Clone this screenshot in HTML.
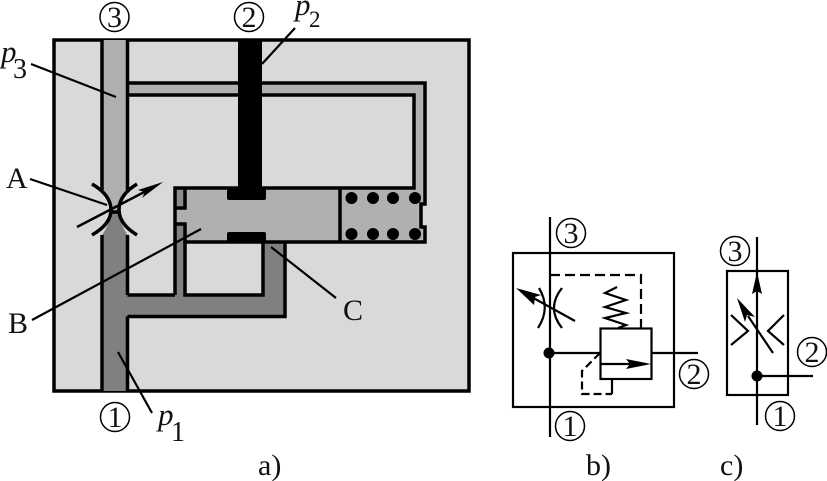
<!DOCTYPE html>
<html><head><meta charset="utf-8">
<style>
html,body{margin:0;padding:0;background:#fff}
svg{display:block}
text{font-family:"Liberation Serif",serif;fill:#111}
</style></head>
<body>
<svg width="827" height="481" viewBox="0 0 827 481" xmlns="http://www.w3.org/2000/svg">
<!-- body -->
<rect x="54" y="40" width="415" height="351" fill="#d9d9d9" stroke="#000" stroke-width="3.5"/>

<!-- channel 3 (lighter gray) -->
<path d="M102 40H127.5V83H425V204H421V227H425V242H176V188H414V95H127.5V190Q120 200 119 212H111Q110 200 102 190Z" fill="#b0b0b0"/>
<!-- channel 1 (dark gray) -->
<path d="M111 212H119Q120 224 127.5 235V295H176V224H185V295H263V242H285V316H127.5V391H102V235Q110 224 111 212Z" fill="#808080"/>
<rect x="176" y="188" width="9" height="20" fill="#8c8c8c"/>

<g fill="none" stroke="#000" stroke-width="3.500" stroke-linejoin="miter">
  <path d="M102 40V190M102 235V391"/>
  <path d="M127.500 40V190M127.500 235V295"/>
  <path d="M127.500 83H425V204H421V227H425V242H185V224H175"/>
  <path d="M127.500 95H414V188H175V295M127.500 295H175"/>
  <path d="M175 208H185V188"/>
  <path d="M127.500 316.500H285V242M127.500 316.500V391"/>
  <path d="M185 242V295H263V242"/>
  <path d="M340 188V242"/>
</g>

<!-- rod and lands -->
<rect x="238" y="40" width="24" height="150" fill="#000"/>
<rect x="227" y="188" width="39" height="12" rx="2" fill="#000"/>
<rect x="227" y="232" width="39" height="11" rx="2" fill="#000"/>

<!-- spring balls -->
<g fill="#000">
  <circle cx="351.500" cy="198" r="6"/><circle cx="373" cy="198" r="6"/><circle cx="393" cy="198" r="6"/><circle cx="415" cy="198" r="6"/>
  <circle cx="351.500" cy="234" r="6"/><circle cx="373" cy="234" r="6"/><circle cx="393" cy="234" r="6"/><circle cx="415" cy="234" r="6"/>
</g>

<!-- orifice -->
<g fill="none" stroke="#000" stroke-width="3.500">
  <path d="M92 184Q111 195 111 210Q111 224 92 235"/>
  <path d="M137 184Q119 195 119 210Q119 224 137 235"/>
  <path d="M110 212H120"/>
</g>
<path d="M77 227L150 189" stroke="#000" stroke-width="2.500" fill="none"/>
<path d="M163 182L138 190L145 192L142 198Z" fill="#000"/>

<!-- leaders -->
<g stroke="#000" stroke-width="2.200" fill="none">
  <path d="M31 64L116 97"/>
  <path d="M262 64L295 28"/>
  <path d="M30 179L107 205"/>
  <path d="M32 320L201 229"/>
  <path d="M271 247L336 298"/>
  <path d="M118 352L152 413"/>
</g>

<!-- circled digits -->
<g fill="none" stroke="#000" stroke-width="1.500">
  <circle cx="114.500" cy="17" r="14.500"/><circle cx="249" cy="17" r="14.500"/><circle cx="115" cy="417" r="14.500"/>
  <circle cx="571" cy="233" r="14.500"/><circle cx="570" cy="426" r="14.500"/><circle cx="694" cy="374" r="14.500"/>
  <circle cx="735" cy="251" r="14.500"/><circle cx="812" cy="352" r="14.500"/><circle cx="780" cy="416" r="14.500"/>
</g>
<g font-size="30" text-anchor="middle">
  <text x="114.500" y="27">3</text><text x="249" y="27">2</text><text x="115" y="427">1</text>
  <text x="571" y="243">3</text><text x="570" y="436">1</text><text x="694" y="384">2</text>
  <text x="735" y="261">3</text><text x="812" y="362">2</text><text x="780" y="426">1</text>
</g>
<g font-size="31">
  <text x="1" y="62" font-style="italic">p</text><text x="13" y="78" font-size="28">3</text>
  <text x="295" y="15" font-style="italic">p</text><text x="309" y="27" font-size="23">2</text>
  <text x="158" y="425" font-style="italic">p</text><text x="171" y="441" font-size="28">1</text>
  <text x="6" y="188" font-size="30">A</text>
  <text x="8" y="333" font-size="30">B</text>
  <text x="343" y="320" font-size="30">C</text>
  <text x="258" y="475" font-size="30">a)</text>
  <text x="586" y="475" font-size="30">b)</text>
  <text x="720" y="475" font-size="30">c)</text>
</g>

<!-- panel b -->
<g fill="none" stroke="#000" stroke-width="2.200">
  <rect x="513" y="253" width="161" height="154"/>
  <path d="M550 217V437"/>
  <rect x="600.500" y="328.500" width="51" height="50.500"/>
  <path d="M601 364H640"/>
  <path d="M549 353H600M652 353H698"/>
  <path d="M617 287L605 293L626 300L605 307L626 313L605 318L626 325L618 328"/>
  <path d="M539 288Q551 308 538 328"/>
  <path d="M562 288Q546 308 562 328"/>
  <path d="M575 321L528 295"/>
  <path d="M612 379V394"/>
  <path d="M550 275H641V328" stroke-dasharray="10 5"/>
  <path d="M600 353L582 371V394H612" stroke-dasharray="8 4"/>
</g>
<path d="M516 288L541 295L535 297L534 305Z" fill="#000"/>
<path d="M651 364L626 359L630 364L626 369Z" fill="#000"/>
<circle cx="549" cy="353" r="5.500" fill="#000"/>

<!-- panel c -->
<g fill="none" stroke="#000" stroke-width="2.200">
  <rect x="727" y="271" width="61" height="124"/>
  <path d="M757 237V425"/>
  <path d="M731 315L748 331L731 345"/>
  <path d="M784 315L768 331L784 345"/>
  <path d="M773 353L748 316"/>
  <path d="M757 376H813"/>
</g>
<path d="M757 272L762 294L757 291L752 294Z" fill="#000"/>
<path d="M737 298L755 317L747 315L745 322Z" fill="#000"/>
<circle cx="757" cy="376" r="5.500" fill="#000"/>
</svg>
</body></html>
